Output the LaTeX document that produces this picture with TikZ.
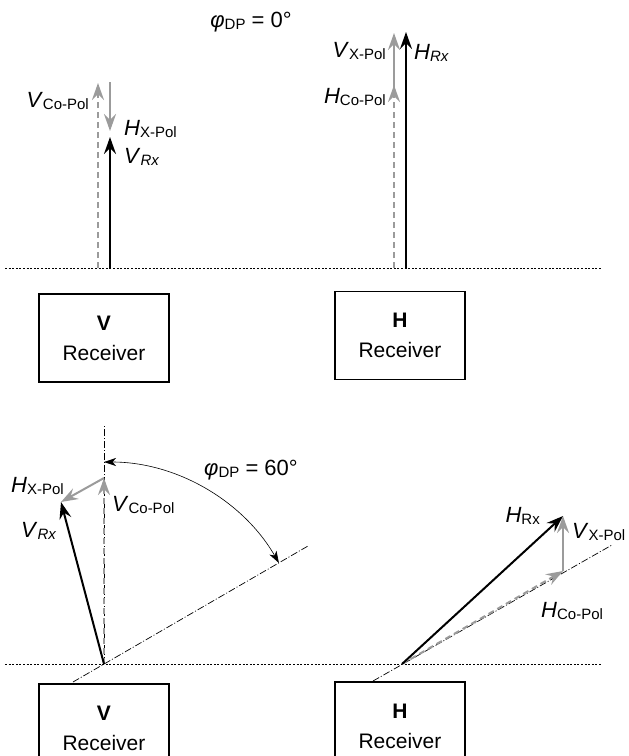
\documentclass[tikz,border=0pt]{standalone}
\usepackage{fontspec}
\setmainfont{Liberation Sans}
\usetikzlibrary{arrows.meta}
\definecolor{vgray}{RGB}{155,155,155}
\newcommand{\subtxt}[1]{\raisebox{-2pt}{\fontsize{15}{15}\selectfont #1}}
\newcommand{\lbl}[2]{{\fontsize{22}{24}\selectfont\textit{#1}}\subtxt{#2}}
\newcommand{\lbli}[2]{{\fontsize{22}{24}\selectfont\textit{#1}}\subtxt{\itshape #2}}
\begin{document}
\begin{tikzpicture}[x=1pt,y=-1pt,
  every node/.style={font=\fontsize{21}{30}\selectfont, inner sep=0pt},
  vec/.style={line width=2pt, -{Stealth[length=17pt,width=12pt,inset=6pt]}},
  blackvec/.style={vec, draw=black},
  grayvec/.style={vec, draw=vgray},
  dashvec/.style={grayvec, dash pattern=on 6pt off 4pt},
  groundline/.style={line width=0.8pt, dash pattern=on 2pt off 1.6pt},
  axisline/.style={line width=0.7pt, dash pattern=on 7pt off 2pt on 1pt off 2pt},
  anglearc/.style={line width=0.6pt, {Stealth[length=12pt,width=8pt,inset=3.5pt]}-{Stealth[length=12pt,width=8pt,inset=3.5pt]}},
  rxbox/.style={draw, line width=1.5pt, minimum width=130pt, minimum height=88pt, align=center},
  phitxt/.style={font=\fontsize{22}{24}\selectfont}
]
\useasboundingbox (0,0) rectangle (629,756);
\clip (0,0) rectangle (629,756);

% ---------- top panel (phi = 0) ----------
\node[anchor=base, phitxt] (phi0) at (251,27) {\textit{φ}\subtxt{DP} = 0°};

\coordinate (gl1a) at (5,268);
\coordinate (gl1b) at (602,268);
\draw[groundline] (gl1a) -- (gl1b);

% V receiver
\coordinate (v1co0) at (98,268);
\coordinate (v1co1) at (98,83);
\coordinate (v1x0) at (110,82);
\coordinate (v1x1) at (110,131);
\coordinate (v1rx0) at (110,268);
\coordinate (v1rx1) at (110,137);
\draw[dashvec] (v1co0) -- (v1co1);
\draw[grayvec] (v1x0) -- (v1x1);
\draw[blackvec] (v1rx0) -- (v1rx1);
\node[anchor=base east] (lv1co) at (89,107) {\lbl{V}{Co-Pol}};
\node[anchor=base west] (lv1x) at (124,135) {\lbl{H}{X-Pol}};
\node[anchor=base west] (lv1rx) at (124,163) {\lbli{V}{Rx}};

% H receiver
\coordinate (h1co0) at (394,268);
\coordinate (h1co1) at (394,85);
\coordinate (h1x0) at (394,88);
\coordinate (h1x1) at (394,33);
\coordinate (h1rx0) at (406,268);
\coordinate (h1rx1) at (406,32);
\draw[dashvec] (h1co0) -- (h1co1);
\draw[grayvec] (h1x0) -- (h1x1);
\draw[blackvec] (h1rx0) -- (h1rx1);
\node[anchor=base east] (lh1x) at (386,57) {\lbl{V}{X-Pol}};
\node[anchor=base west] (lh1rx) at (414,59) {\lbli{H}{Rx}};
\node[anchor=base east] (lh1co) at (386,103) {\lbl{H}{Co-Pol}};

\node[rxbox] (vbox1) at (104,338) {\textbf{V}\\Receiver};
\node[rxbox] (hbox1) at (400,335.5) {\textbf{H}\\Receiver};

% ---------- bottom panel (phi = 60) ----------
\coordinate (gl2a) at (5,664);
\coordinate (gl2b) at (602,664);
\draw[groundline] (gl2a) -- (gl2b);

% V receiver
\coordinate (o1) at (104,664);
\coordinate (o1top) at (104,425);
\coordinate (o1low) at (73,682);
\coordinate (o1hi) at (308,546);
\draw[axisline] (o1) -- (o1top);
\draw[axisline] (o1low) -- (o1hi);
\coordinate (v2co1) at (104,478);
\coordinate (v2x1) at (61,502);
\draw[dashvec] (o1) -- (v2co1);
\draw[grayvec] (v2co1) -- (v2x1);
\draw[blackvec] (o1) -- (v2x1);
\draw[anglearc] (104,462) arc[start angle=-90, end angle=-30, radius=202];
\node[anchor=base, phitxt] (phi60) at (251,475) {\textit{φ}\subtxt{DP} = 60°};
\node[anchor=base west] (lv2x) at (11,492) {\lbl{H}{X-Pol}};
\node[anchor=base west] (lv2co) at (112,511) {\lbl{V}{Co-Pol}};
\node[anchor=base west] (lv2rx) at (21,537) {\lbli{V}{Rx}};

% H receiver
\coordinate (o2) at (402,664);
\coordinate (o2low) at (373,681);
\coordinate (o2hi) at (612,545);
\draw[axisline] (o2low) -- (o2hi);
\coordinate (h2co1) at (563,571);
\coordinate (h2x1) at (563,516);
\draw[dashvec] (o2) -- (h2co1);
\draw[grayvec] (h2co1) -- (h2x1);
\draw[blackvec] (o2) -- (h2x1);
\node[anchor=base east] (lh2rx) at (540,522) {\lbl{H}{Rx}};
\node[anchor=base west] (lh2x) at (572,538) {\lbl{V}{X-Pol}};
\node[anchor=base west] (lh2co) at (541,617) {\lbl{H}{Co-Pol}};

\node[rxbox] (vbox2) at (104,728) {\textbf{V}\\Receiver};
\node[rxbox] (hbox2) at (400,726) {\textbf{H}\\Receiver};
\end{tikzpicture}
\end{document}
